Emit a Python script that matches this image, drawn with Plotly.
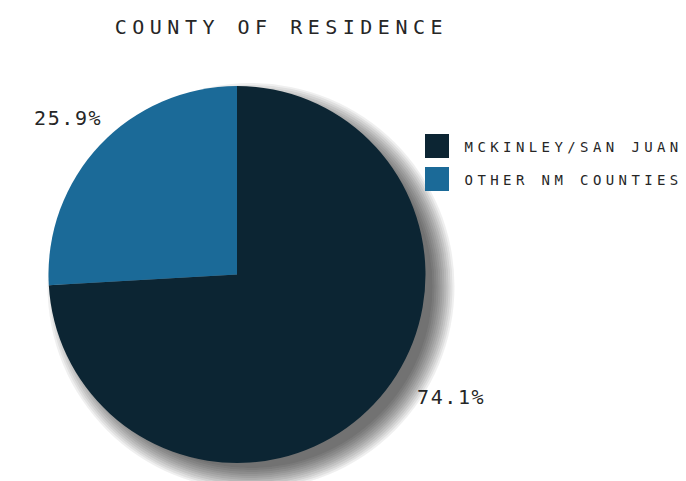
import json
import plotly.graph_objects as go

# --- data -------------------------------------------------------------
categories = ["MCKINLEY/SAN JUAN", "OTHER NM COUNTIES"]
shares = [74.1, 25.9]
title_text = "COUNTY OF RESIDENCE"

# --- styling ----------------------------------------------------------
colors = ["#0c2533", "#1b6a98"]
text_color = "#262626"
mono = "DejaVu Sans Mono"

W, H = 686, 481
CX, CY, R = 237, 274.5, 188.5          # pie centre / radius in pixels (top-left origin)
SH_DX, SH_DY, SH_GROW = 14, 12, 4      # drop-shadow offset and size increase
SH_LAYERS = 12
SH_ALPHA = 0.062


def fx(x):
    return x / W


def fy(y):
    return 1 - y / H


def domain(cx, cy, r):
    return dict(x=[fx(cx - r), fx(cx + r)], y=[fy(cy + r), fy(cy - r)])


fig = go.Figure()

fig.add_trace(go.Pie(
    labels=categories, values=shares, domain=domain(CX, CY, R),
    marker=dict(colors=colors, line=dict(width=0)),
    sort=False, direction="clockwise", rotation=0,
    textinfo="none", hovertemplate="%{label}: %{value:.1f}%<extra></extra>",
    showlegend=False,
))

# soft drop shadow under the pie: stacked translucent discs of growing radius
shapes = []
sx, sy = CX + SH_DX, CY + SH_DY
for k in range(SH_LAYERS):
    r = R + SH_GROW - (SH_LAYERS - 1) + 2 * k
    shapes.append(dict(type="circle", xref="paper", yref="paper", layer="below",
                       x0=fx(sx - r), x1=fx(sx + r), y0=fy(sy + r), y1=fy(sy - r),
                       fillcolor=f"rgba(0,0,0,{SH_ALPHA})", line=dict(width=0)))

annotations = []
spacing = []


def add_text(text, x, y, size, ls):
    annotations.append(dict(
        text=text, x=fx(x), y=fy(y), xref="paper", yref="paper",
        xanchor="center", yanchor="middle", showarrow=False,
        font=dict(family=mono, size=size, color=text_color),
    ))
    spacing.append(ls)


# title
add_text(title_text, 279 + 2.8, 27, 20, 5.5)

# percentage labels
label_pos = [(450 + 0.8, 397), (67 + 0.8, 118)]
for v, (x, y) in zip(shares, label_pos):
    add_text(f"{v:.1f}%", x, y, 20, 1.6)

# legend: swatches + labels
for i, (name, col) in enumerate(zip(categories, colors)):
    top = 134 + 33 * i
    shapes.append(dict(type="rect", xref="paper", yref="paper",
                       x0=fx(425), x1=fx(449), y0=fy(top + 24), y1=fy(top),
                       fillcolor=col, line=dict(width=0)))
    add_text(name, 571.5 + 2.2, top + 13, 14, 4.4)

fig.update_layout(
    width=W, height=H, autosize=False,
    margin=dict(l=0, r=0, t=0, b=0),
    paper_bgcolor="white", plot_bgcolor="rgba(0,0,0,0)",
    showlegend=False,
    annotations=annotations, shapes=shapes,
)

# widen the tracking of the annotation text (letter-spacing)
post = """
var gd = document.getElementById('{plot_id}');
var LS = %s;
function track() {
  gd.querySelectorAll('.annotation').forEach(function (g) {
    var i = +g.getAttribute('data-index');
    var t = g.querySelector('text');
    if (t && LS[i] !== undefined) { t.style.letterSpacing = LS[i] + 'px'; }
  });
}
track();
gd.on && gd.on('plotly_afterplot', track);
setTimeout(track, 50);
""" % json.dumps(spacing)

fig.write_html("out.html", config={"displayModeBar": False, "responsive": False},
               post_script=post)
